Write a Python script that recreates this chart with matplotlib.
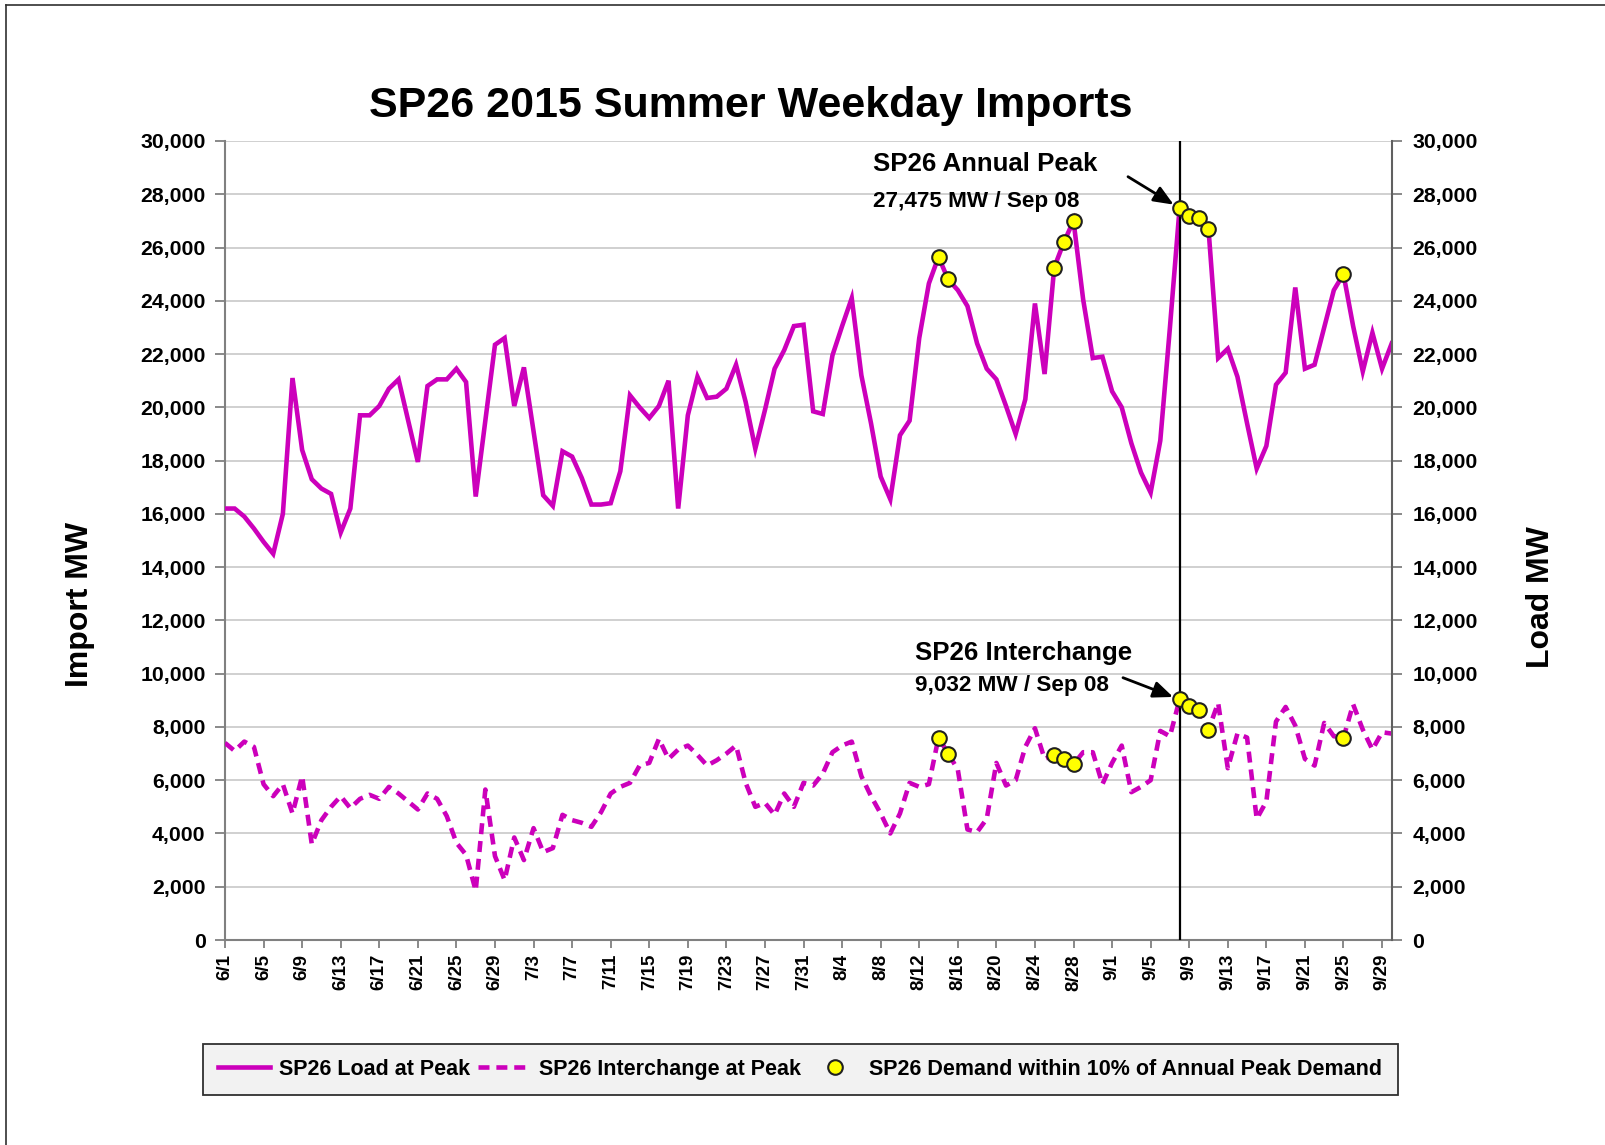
import matplotlib
matplotlib.use('Agg')
import matplotlib.pyplot as plt
import numpy as np
import pandas as pd
from matplotlib.lines import Line2D

plt.rcParams['font.family'] = ['Liberation Sans', 'DejaVu Sans']
plt.rcParams['font.weight'] = 'bold'

# ---------------- data ----------------
dates = pd.date_range('2015-06-01', '2015-09-30', freq='D')

load_mw = [
    16200, 16200, 15900, 15450, 14950, 14500, 16000, 21100, 18400, 17300,
    16950, 16750, 15300, 16200, 19700, 19700, 20050, 20700, 21050, 19500,
    17950, 20800, 21050, 21050, 21450, 20950, 16650, 19500, 22350, 22600,
    20050, 21500, 19100, 16700, 16300, 18350, 18150, 17350, 16350, 16350,
    16400, 17600, 20450, 20000, 19600, 20050, 21000, 16200, 19700, 21150,
    20350, 20400, 20700, 21600, 20200, 18450, 19900, 21450, 22150, 23050,
    23100, 19850, 19750, 21950, 23050, 24100, 21200, 19400, 17400, 16550,
    18950, 19500, 22600, 24650, 25650, 24800, 24400, 23800, 22400, 21450,
    21050, 20050, 19000, 20300, 23900, 21250, 25250, 26200, 27000, 24050,
    21850, 21900, 20600, 20000, 18650, 17550, 16800, 18750, 23000, 27475,
    27200, 27100, 26700, 21850, 22200, 21150, 19400, 17700, 18550, 20850,
    21300, 24500, 21450, 21600, 23000, 24400, 25000, 23050, 21350, 22800,
    21450, 22400,
]

interchange_mw = [
    7400, 7100, 7450, 7250, 5850, 5400, 5850, 4750, 6150, 3600,
    4500, 5000, 5400, 4950, 5300, 5450, 5300, 5750, 5500, 5200,
    4900, 5500, 5300, 4650, 3650, 3200, 1850, 5650, 3150, 2250,
    3850, 3000, 4200, 3300, 3450, 4700, 4500, 4400, 4250, 4800,
    5500, 5750, 5900, 6550, 6650, 7550, 6800, 7150, 7300, 6950,
    6550, 6750, 7000, 7300, 5900, 5000, 5150, 4700, 5500, 5000,
    5900, 5800, 6250, 7050, 7300, 7450, 6150, 5400, 4750, 4000,
    4750, 5900, 5750, 5850, 7600, 7000, 6400, 4150, 4050, 4550,
    6650, 5800, 6000, 7250, 7950, 6800, 6950, 6800, 6600, 7050,
    7050, 5850, 6650, 7300, 5550, 5750, 6000, 7850, 7650, 9032,
    8800, 8650, 7900, 8900, 6450, 7750, 7600, 4550, 5200, 8200,
    8750, 8050, 6800, 6550, 8150, 7650, 7600, 8850, 7900, 7150,
    7800, 7750,
]

peak_dates = ['2015-08-14', '2015-08-15', '2015-08-26', '2015-08-27', '2015-08-28',
              '2015-09-08', '2015-09-09', '2015-09-10', '2015-09-11', '2015-09-25']
annual_peak_date = '2015-09-08'

tick_labels = ['6/1', '6/5', '6/9', '6/13', '6/17', '6/21', '6/25', '6/29',
               '7/3', '7/7', '7/11', '7/15', '7/19', '7/23', '7/27', '7/31',
               '8/4', '8/8', '8/12', '8/16', '8/20', '8/24', '8/28',
               '9/1', '9/5', '9/9', '9/13', '9/17', '9/21', '9/25', '9/29']
y_ticks = list(range(0, 30001, 2000))

# ---------------- figure ----------------
W, H = 1606, 1145
MAG = '#CC00BB'
LW = 3.3
DASH = (2.4, 1.5)
fig = plt.figure(figsize=(W / 100, H / 100), dpi=100)
ax = fig.add_axes([225 / W, 1 - 940 / H, (1391.7 - 225) / W, (940 - 141) / H])

s_load = pd.Series(load_mw, index=dates)
s_int = pd.Series(interchange_mw, index=dates)
pk = pd.to_datetime(peak_dates)

ax.plot(dates, s_load.values, color=MAG, lw=LW, zorder=3, solid_joinstyle='miter')
ax.plot(dates, s_int.values, color=MAG, lw=LW, zorder=3, dashes=DASH)
ax.axvline(pd.Timestamp(annual_peak_date), color='black', lw=1.6, zorder=4)
ax.plot(pk, s_load[pk].values, ls='none', marker='o', ms=10.5, mfc='#FFFF00',
        mec='#202020', mew=1.5, zorder=5)
ax.plot(pk, s_int[pk].values, ls='none', marker='o', ms=10.5, mfc='#FFFF00',
        mec='#202020', mew=1.5, zorder=5)

ax.set_xlim(dates[0], dates[-1])
ax.set_ylim(0, 30000)
ax.set_xticks(dates[::4])
ax.set_xticklabels(tick_labels, rotation=90, fontsize=13.5, fontweight='bold')
ax.set_yticks(y_ticks)
ax.set_yticklabels([f'{v:,}' for v in y_ticks], fontsize=15.3, fontweight='bold')
ax.tick_params(axis='y', direction='out', length=7, width=1.3, color='#808080', pad=7)
ax.tick_params(axis='x', direction='out', length=6, width=1.3, color='#808080', pad=4)
ax.yaxis.grid(True, color='#c8c8c8', lw=1.2)
ax.set_axisbelow(True)
for s in ['top', 'right']:
    ax.spines[s].set_visible(False)
for s in ['left', 'bottom']:
    ax.spines[s].set_color('#808080')
    ax.spines[s].set_linewidth(1.5)

ax2 = ax.twinx()
ax2.set_ylim(0, 30000)
ax2.set_yticks(y_ticks)
ax2.set_yticklabels([f'{v:,}' for v in y_ticks], fontsize=15.3, fontweight='bold')
ax2.tick_params(axis='y', direction='out', length=7, width=1.3, color='#808080', pad=8)
for s in ['top', 'left', 'bottom']:
    ax2.spines[s].set_visible(False)
ax2.spines['right'].set_color('#606060')
ax2.spines['right'].set_linewidth(1.5)

# ---------------- text ----------------
fig.text(751 / W, 1 - 117 / H, 'SP26 2015 Summer Weekday Imports', ha='center',
         va='baseline', fontsize=31, fontweight='bold')
fig.text(80 / W, 1 - 604 / H, 'Import MW', rotation=90, ha='center', va='center',
         fontsize=23, fontweight='bold')
fig.text(1541 / W, 1 - 597 / H, 'Load MW', rotation=90, ha='center', va='center',
         fontsize=23, fontweight='bold')

fig.text(873 / W, 1 - 171 / H, 'SP26 Annual Peak', fontsize=18.6, fontweight='bold', va='baseline')
fig.text(873 / W, 1 - 206.5 / H, f'{max(load_mw):,} MW / Sep 08', fontsize=16.2,
         fontweight='bold', va='baseline')
fig.text(915 / W, 1 - 660 / H, 'SP26 Interchange', fontsize=18.6, fontweight='bold', va='baseline')
fig.text(915 / W, 1 - 691 / H, f'{s_int[annual_peak_date]:,} MW / Sep 08', fontsize=16.2,
         fontweight='bold', va='baseline')

arrow = dict(arrowstyle='-|>,head_length=0.6,head_width=0.25', color='black', lw=2,
             shrinkA=0, shrinkB=5, mutation_scale=20)
ax.annotate('', xy=(pd.Timestamp(annual_peak_date), s_load[annual_peak_date]),
            xycoords='data', xytext=(1128, H - 176.7), textcoords='figure pixels',
            arrowprops=arrow, zorder=6)
ax.annotate('', xy=(pd.Timestamp(annual_peak_date), s_int[annual_peak_date]),
            xycoords='data', xytext=(1123, H - 677.7), textcoords='figure pixels',
            arrowprops=arrow, zorder=6)

# ---------------- legend ----------------
handles = [
    Line2D([], [], color=MAG, lw=LW),
    Line2D([], [], color=MAG, lw=LW, dashes=DASH),
    Line2D([], [], ls='none', marker='o', ms=10.5, mfc='#FFFF00', mec='#202020', mew=1.5),
]
labels = ['SP26 Load at Peak', 'SP26 Interchange at Peak',
          'SP26 Demand within 10% of Annual Peak Demand']
leg = fig.legend(handles, labels, loc='center', bbox_to_anchor=(800.4 / W, 1 - 1069.3 / H),
                 ncol=3, frameon=True, fancybox=False, edgecolor='#303030',
                 facecolor='#f2f2f2', framealpha=1, handlelength=2.4,
                 handletextpad=0.4, columnspacing=0.4, borderpad=0.7,
                 prop={'size': 15.5, 'weight': 'bold'})
leg.get_frame().set_linewidth(1.3)

# ---------------- outer frame ----------------
fig.add_artist(Line2D([6 / W, 6 / W], [0, 1 - 5 / H], color='#303030', lw=1.2,
                      transform=fig.transFigure))
fig.add_artist(Line2D([6 / W, 1], [1 - 5 / H, 1 - 5 / H], color='#303030', lw=1.2,
                      transform=fig.transFigure))

fig.savefig('out.png', dpi=100)
